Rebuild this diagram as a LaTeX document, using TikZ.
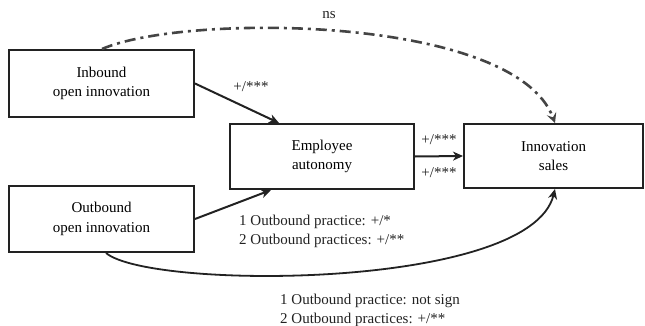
\documentclass[tikz,border=0pt]{standalone}
\usepackage{fontspec}
\setmainfont{Liberation Serif}
\usetikzlibrary{arrows.meta,calc}
\definecolor{ink}{HTML}{222222}
\definecolor{dd}{HTML}{444444}
\begin{document}
\begin{tikzpicture}[x=1pt,y=-1pt,
  box/.style={draw=ink,line width=2pt,rectangle,align=center,inner sep=0pt,
    font=\fontsize{15}{19.5}\selectfont},
  conn/.style={draw=ink,line width=2pt,-{Stealth[length=10pt,width=9pt,inset=3pt]}},
  lbl/.style={font=\fontsize{15}{19}\selectfont,inner sep=0pt,text=ink}]
\useasboundingbox (0,0) rectangle (645,326);
\node[box,minimum width=185pt,minimum height=67pt] (inb) at (101.5,83.5) {Inbound\\open innovation};
\node[box,minimum width=184pt,minimum height=65pt] (emp) at (322,156.5) {Employee\\autonomy};
\node[box,minimum width=179pt,minimum height=64pt] (ino) at (553.5,156) {Innovation\\sales};
\node[box,minimum width=185pt,minimum height=66pt] (outb) at (101.5,219) {Outbound\\open innovation};
\coordinate (inbtop) at ($(inb.north west)+(94,0)$);
\coordinate (emptop) at ($(emp.north west)+(50,0)$);
\coordinate (empbot) at ($(emp.south west)+(42,0)$);
\coordinate (inotop) at ($(ino.north west)+(92,0)$);
\coordinate (inobot) at ($(ino.south west)+(92,0)$);
\coordinate (outbot) at ($(outb.south west)+(98,0)$);
\draw[conn] (inb.east) -- (emptop);
\draw[conn] (outb.east) -- (empbot);
\draw[conn] (emp.east) -- (ino.west);
\draw[draw=dd,line width=2.6pt,dash pattern=on 11pt off 5pt on 3pt off 5pt,
  -{Stealth[length=10pt,width=10pt,inset=4pt]}]
  (inbtop) .. controls (185,13) and (515,15) .. (inotop);
\draw[conn,line width=1.8pt] (outbot) .. controls (150,290) and (530,290) .. (inobot);
\node[lbl] (l1) at (251,87) {+/***};
\node[lbl] (l2) at (439,140) {+/***};
\node[lbl] (l3) at (439,173) {+/***};
\node[lbl] (ns) at (329,15) {ns};
\node[lbl,anchor=west,align=left] (l4) at (239,231) {1 Outbound practice: +/*\\2 Outbound practices: +/**};
\node[lbl,anchor=west,align=left] (l5) at (280,310) {1 Outbound practice: not sign\\2 Outbound practices: +/**};
\end{tikzpicture}
\end{document}
